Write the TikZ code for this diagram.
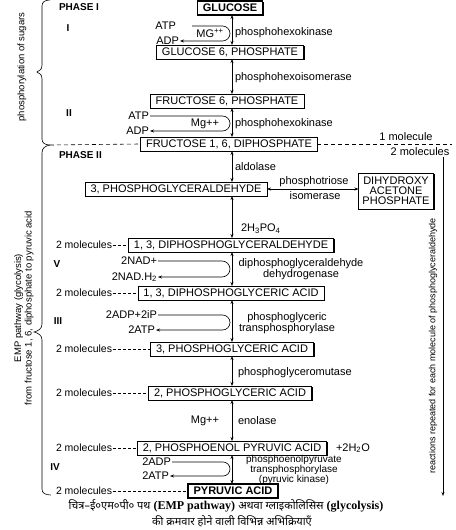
\documentclass[tikz,border=0pt]{standalone}
\usepackage{fontspec}
\setmainfont{Liberation Sans}
\newfontfamily\capserif{Liberation Serif}
\newfontfamily\devfont[Script=Devanagari]{Noto Sans}
\usetikzlibrary{arrows.meta,shadows}

\begin{document}
\begin{tikzpicture}[x=1bp, y=-1bp, font=\fontsize{11bp}{12bp}\selectfont,
    every node/.style={inner sep=1bp, outer sep=0pt},
    compound/.style={draw, fill=white, line width=0.6bp, inner xsep=5.5bp, inner ysep=2bp, minimum height=14bp,
        drop shadow={shadow xshift=1bp, shadow yshift=-1bp, fill=black, opacity=1}},
    endpoint/.style={compound, line width=1.4bp, font=\fontsize{11bp}{12bp}\selectfont\bfseries},
    rev/.style={{Stealth[length=4bp,width=3bp]}-{Stealth[length=4bp,width=3bp]}, line width=0.6bp},
    loopline/.style={-{Stealth[length=4bp,width=3bp]}, line width=0.6bp},
    molline/.style={dash pattern=on 3bp off 2bp, line width=0.6bp},
    bigdash/.style={dash pattern=on 4bp off 3bp, line width=0.6bp},
    phase/.style={anchor=west, font=\fontsize{10bp}{12bp}\selectfont\bfseries},
    stepno/.style={font=\fontsize{10bp}{12bp}\selectfont\bfseries},
    mols/.style={anchor=west, font=\fontsize{10.5bp}{12bp}\selectfont},
    enzyme/.style={anchor=west},
    twoline/.style={align=center, font=\fontsize{11bp}{9.5bp}\selectfont}]
    \useasboundingbox (0,0) rectangle (456,530);
    \coordinate (axis) at (232,0);

    % phase I
    \node[phase] (ph1) at (58,7) {PHASE I};
    \node[endpoint] (glc) at (230,8) {GLUCOSE};
    \node[stepno] (s1) at (68,28) {I};
    \node[anchor=east] (atp1) at (177,26) {ATP};
    \node[anchor=east] (adp1) at (180,41) {ADP};
    \node (mg1) at (210,33) {MG\textsuperscript{++}};
    \node[enzyme] (e1) at (234,33) {phosphohexokinase};
    \node[compound] (g6p) at (230,52) {GLUCOSE 6, PHOSPHATE};
    \node[enzyme] (e2) at (234,78) {phosphohexoisomerase};
    \node[compound] (f6p) at (227,101) {FRUCTOSE 6, PHOSPHATE};
    \node[stepno] (s2) at (69,113) {II};
    \node[anchor=east] (atp2) at (150,116) {ATP};
    \node[anchor=east] (adp2) at (150,131) {ADP};
    \node (mg2) at (205,124) {Mg++};
    \node[enzyme] (e3) at (234,124) {phosphohexokinase};
    \node[compound] (fdp) at (229,144) {FRUCTOSE 1, 6, DIPHOSPHATE};

    \draw[loopline] ([xshift=15bp]atp1.east) -- (222.5,26) arc[start angle=90, end angle=-90, radius=7.5bp] -- (adp1.east);
    \draw[loopline] (atp2.east) -- (222.5,116) arc[start angle=90, end angle=-90, radius=7.5bp] -- (adp2.east);

    % phase II
    \node[phase] (ph2) at (58,155) {PHASE II};
    \node (one) at (406,137) {1 molecule};
    \node (two) at (420,152) {2 molecules};
    \coordinate (dashend) at (452,144);
    \coordinate (brjoin) at (50,145);
    \draw[bigdash] (brjoin) -- (fdp.west);
    \draw[bigdash] (fdp.east) -- (dashend);
    \node[enzyme] (e4) at (234,167) {aldolase};
    \node[compound] (pgal) at (176,189) {3, PHOSPHOGLYCERALDEHYDE};
    \node[compound, align=center, font=\fontsize{11bp}{10bp}\selectfont, inner ysep=4bp, inner xsep=4bp] (dhap) at (396,191) {DIHYDROXY\\ACETONE\\PHOSPHATE};
    \node (e5a) at (314,182) {phosphotriose};
    \node (e5b) at (315,196) {isomerase};
    \draw[rev] (dhap.west |- pgal.east) -- (pgal.east);
    \node[enzyme] (pi) at (240,229) {2H\textsubscript{3}PO\textsubscript{4}};
    \node[compound] (dpgal) at (231,245) {1, 3, DIPHOSPHOGLYCERALDEHYDE};
    \node[mols] (m1) at (55,245) {2 molecules};
    \node[stepno] (s5) at (57,264) {V};
    \node[anchor=east] (nad1) at (158,261) {2NAD+};
    \node[anchor=east] (nad2) at (158,277) {2NAD.H\textsubscript{2}};
    \node[twoline] (e6) at (301,269) {diphosphoglyceraldehyde\\dehydrogenase};
    \node[compound] (dpga) at (231,293) {1, 3, DIPHOSPHOGLYCERIC ACID};
    \node[mols] (m2) at (55,293) {2 molecules};
    \node[stepno] (s3) at (58,321) {III};
    \node[anchor=east] (adp3) at (158,315) {2ADP+2iP};
    \node[anchor=east] (atp3) at (156,330) {2ATP};
    \node[twoline] (e7) at (287,323) {phosphoglyceric\\transphosphorylase};
    \node[compound] (pga3) at (232,349) {3, PHOSPHOGLYCERIC ACID};
    \node[mols] (m3) at (55,349) {2 molecules};
    \node[enzyme] (e8) at (237,373) {phosphoglyceromutase};
    \node[compound] (pga2) at (230,393) {2, PHOSPHOGLYCERIC ACID};
    \node[mols] (m4) at (55,393) {2 molecules};
    \node (mg3) at (205,421) {Mg++};
    \node[enzyme] (e9) at (237,421) {enolase};
    \node[compound] (pep) at (232,448) {2, PHOSPHOENOL PYRUVIC ACID};
    \node[anchor=west] (h2o) at (335,448) {+2H\textsubscript{2}O};
    \node[mols] (m5) at (55,448) {2 molecules};
    \node[stepno] (s4) at (55,467) {IV};
    \node[anchor=east] (adp4) at (172,462) {2ADP};
    \node[anchor=east] (atp4) at (170,476) {2ATP};
    \node[align=center, font=\fontsize{10bp}{8.3bp}\selectfont] (e10) at (294,470) {phosphoenolpyruvate\\transphosphorylase\\(pyruvic kinase)};
    \node[endpoint] (pyr) at (233,491) {PYRUVIC ACID};
    \node[mols] (m6) at (55,491) {2 molecules};

    \draw[loopline] (nad1.east) -- (222,261) arc[start angle=90, end angle=-90, radius=8bp] -- (nad2.east);
    \draw[loopline] (adp3.east) -- (222.5,315) arc[start angle=90, end angle=-90, radius=7.5bp] -- (atp3.east);
    \draw[loopline] (adp4.east) -- (223,462) arc[start angle=90, end angle=-90, radius=7bp] -- (atp4.east);

    \draw[molline] (m1.east) -- (dpgal.west);
    \draw[molline] (m2.east) -- (dpga.west);
    \draw[molline] (m3.east) -- (pga3.west);
    \draw[molline] (m4.east) -- (pga2.west);
    \draw[molline] (m5.east) -- (pep.west);
    \draw[molline] (m6.east) -- (pyr.west);

    % main chain
    \draw[rev] (glc.south -| axis) -- (g6p.north -| axis);
    \draw[rev] (g6p.south -| axis) -- (f6p.north -| axis);
    \draw[rev] (f6p.south -| axis) -- (fdp.north -| axis);
    \draw[rev] (fdp.south -| axis) -- (pgal.north -| axis);
    \draw[rev] (pgal.south -| axis) -- (dpgal.north -| axis);
    \draw[rev] (dpgal.south -| axis) -- (dpga.north -| axis);
    \draw[rev] (dpga.south -| axis) -- (pga3.north -| axis);
    \draw[rev] (pga3.south -| axis) -- (pga2.north -| axis);
    \draw[rev] (pga2.south -| axis) -- (pep.north -| axis);
    \draw[rev] (pep.south -| axis) -- (pyr.north -| axis);

    % braces
    \draw[line width=0.6bp] (50,0) .. controls (45,0) and (42,2) .. (42,6) -- (42,65)
        .. controls (42,69) and (40,71) .. (37,72) .. controls (40,73) and (42,75) .. (42,79)
        -- (42,139) .. controls (42,143) and (45,145) .. (brjoin);
    \draw[line width=0.6bp] (brjoin) .. controls (45,146) and (42,148) .. (42,153) -- (42,324)
        .. controls (42,329) and (38,331) .. (34,332) .. controls (38,333) and (42,335) .. (42,340)
        -- (42,489) .. controls (42,493) and (45,495) .. (51,495);
    \node[rotate=90, font=\fontsize{9.5bp}{11bp}\selectfont] (lab1) at (22,67) {phosphorylation of sugars};
    \node[rotate=90, align=center, font=\fontsize{9.5bp}{10.5bp}\selectfont] (lab2) at (24,308) {EMP pathway (glycolysis)\\from fructose 1, 6, diphosphate to pyruvic acid};

    % repeat arrow
    \coordinate (rtop) at (443,157);
    \coordinate (rbot) at (443,496);
    \draw[loopline] (rtop) -- (rbot);
    \node[rotate=90, font=\fontsize{9bp}{11bp}\selectfont] (rep) at (433,346) {reactions repeated for each molecule of phosphoglyceraldehyde};

    % caption
    \node (cap1) at (226,506) {{\devfont\bfseries चित्र–ई०एम०पी० पथ} {\capserif\bfseries\fontsize{12bp}{13bp}\selectfont (EMP pathway)} {\devfont\bfseries अथवा ग्लाइकोलिसिस} {\capserif\bfseries\fontsize{12bp}{13bp}\selectfont (glycolysis)}};
    \node (cap2) at (232,521) {\devfont की क्रमवार होने वाली विभिन्न अभिक्रियाएँ};
\end{tikzpicture}
\end{document}
